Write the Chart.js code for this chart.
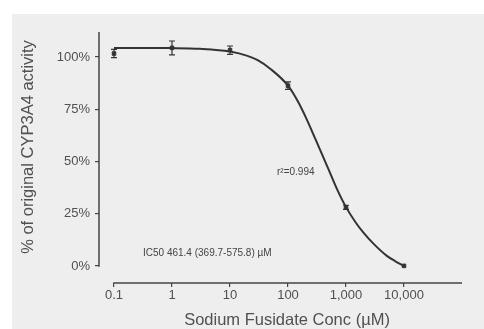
<!DOCTYPE html>
<html>
<head>
<meta charset="utf-8">
<script src="https://cdn.jsdelivr.net/npm/chart.js@4.4.1/dist/chart.umd.min.js"></script>
<style>
  html, body { margin: 0; padding: 0; background: #ffffff; }
  #wrap { width: 484px; height: 329px; }
</style>
</head>
<body>
<div id="wrap"><canvas id="c" width="484" height="329"></canvas></div>
<script>
// ---- data ----
const concentrations = [0.1, 1, 10, 100, 1000, 10000];
const activity = [101.7, 104.4, 103.3, 86.3, 28.1, 0.1];
const activityErr = [2.0, 3.3, 2.0, 1.8, 1.0, 0];

const curveConc = [0.1, 1, 3, 10, 20, 30, 50, 100, 150, 200, 300, 500, 700, 1000, 1500, 2000, 3000, 5000, 7000, 10000];
const curveActivity = [104.4, 104.3, 104.0, 102.7, 100.6, 98.5, 94.3, 86.3, 78.5, 71.5, 60.5, 46.3, 36.8, 28.2, 20.5, 16.0, 10.6, 5.0, 2.4, 0.1];

const xTickValues = [0.1, 1, 10, 100, 1000, 10000];
const xTickLabels = ['0.1', '1', '10', '100', '1,000', '10,000'];
const yTickValues = [0, 25, 50, 75, 100];
const yTickLabels = ['0%', '25%', '50%', '75%', '100%'];

const xTitle = 'Sodium Fusidate Conc (µM)';
const yTitle = '% of original CYP3A4 activity';
const r2Text = 'r²=0.994';
const ic50Text = 'IC50 461.4 (369.7-575.8) µM';

const FONT = '"Liberation Sans", Arial, sans-serif';
const AXIS_COLOR = '#444444';
const TEXT_COLOR = '#505050';

const bgPlugin = {
  id: 'bg',
  beforeDraw(chart) {
    const ctx = chart.ctx;
    ctx.save();
    ctx.fillStyle = '#ffffff';
    ctx.fillRect(0, 0, chart.width, chart.height);
    ctx.fillStyle = '#eeeeee';
    ctx.fillRect(12, 14, chart.width - 12, chart.height - 14);
    ctx.restore();
  }
};

const axesPlugin = {
  id: 'axesLines',
  afterDraw(chart) {
    const ctx = chart.ctx;
    const xs = chart.scales.x, ys = chart.scales.y;
    const area = chart.chartArea;
    ctx.save();
    ctx.strokeStyle = AXIS_COLOR;
    ctx.lineWidth = 1.5;
    // y axis line
    ctx.beginPath();
    ctx.moveTo(area.left, ys.getPixelForValue(112));
    ctx.lineTo(area.left, ys.getPixelForValue(0) + 0.75);
    ctx.stroke();
    // x axis line
    ctx.beginPath();
    ctx.moveTo(xs.getPixelForValue(0.1) - 0.75, area.bottom);
    ctx.lineTo(area.right, area.bottom);
    ctx.stroke();

    // error bars
    ctx.strokeStyle = '#333333';
    ctx.lineWidth = 1.2;
    concentrations.forEach((c, i) => {
      const e = activityErr[i];
      if (!e) return;
      const px = xs.getPixelForValue(c);
      const top = ys.getPixelForValue(activity[i] + e);
      const bot = ys.getPixelForValue(activity[i] - e);
      ctx.beginPath();
      ctx.moveTo(px, top); ctx.lineTo(px, bot);
      ctx.moveTo(px - 3, top); ctx.lineTo(px + 3, top);
      ctx.moveTo(px - 3, bot); ctx.lineTo(px + 3, bot);
      ctx.stroke();
    });

    // titles
    ctx.fillStyle = TEXT_COLOR;
    ctx.font = '16.5px ' + FONT;
    ctx.textAlign = 'center';
    ctx.textBaseline = 'middle';
    ctx.fillText(xTitle, 287, 320);
    ctx.save();
    ctx.translate(28, 147);
    ctx.rotate(-Math.PI / 2);
    ctx.fillText(yTitle, 0, 0);
    ctx.restore();

    // annotations
    ctx.fillStyle = '#444444';
    ctx.font = '10px ' + FONT;
    ctx.textAlign = 'left';
    ctx.fillText(r2Text, xs.getPixelForValue(64.6), ys.getPixelForValue(45));
    ctx.fillText(ic50Text, xs.getPixelForValue(0.316), ys.getPixelForValue(6.2));
    ctx.restore();
  }
};

new Chart(document.getElementById('c'), {
  data: {
    datasets: [
      {
        type: 'line',
        data: curveConc.map((c, i) => ({ x: c, y: curveActivity[i] })),
        borderColor: '#333333',
        borderWidth: 2,
        pointRadius: 0,
        cubicInterpolationMode: 'monotone',
        fill: false
      },
      {
        type: 'scatter',
        data: concentrations.map((c, i) => ({ x: c, y: activity[i] })),
        pointStyle: 'rect',
        pointRadius: 2.5,
        backgroundColor: '#333333',
        borderColor: '#333333',
        borderWidth: 1,
        showLine: false
      }
    ]
  },
  options: {
    responsive: false,
    animation: false,
    devicePixelRatio: 1,
    layout: { padding: { top: 32, right: 22, left: 0, bottom: 0 } },
    plugins: { legend: { display: false }, tooltip: { enabled: false } },
    scales: {
      x: {
        type: 'logarithmic',
        min: 0.05511,
        max: 100000,
        afterBuildTicks(scale) { scale.ticks = xTickValues.map(v => ({ value: v })); },
        afterFit(scale) { scale.height = 46; },
        grid: { drawOnChartArea: false, drawTicks: true, tickLength: 4, color: AXIS_COLOR, lineWidth: 1.2 },
        border: { display: false },
        ticks: {
          autoSkip: false,
          maxRotation: 0,
          padding: 1,
          color: TEXT_COLOR,
          font: { family: FONT, size: 13 },
          callback(value) {
            const i = xTickValues.findIndex(v => Math.abs(v - value) < v * 1e-6);
            return i >= 0 ? xTickLabels[i] : '';
          }
        }
      },
      y: {
        type: 'linear',
        min: -8.1,
        max: 112,
        afterBuildTicks(scale) { scale.ticks = yTickValues.map(v => ({ value: v })); },
        afterFit(scale) { scale.width = 99; },
        grid: { drawOnChartArea: false, drawTicks: true, tickLength: 4, color: AXIS_COLOR, lineWidth: 1.2 },
        border: { display: false },
        ticks: {
          autoSkip: false,
          padding: 5,
          color: TEXT_COLOR,
          font: { family: FONT, size: 13 },
          callback(value) {
            const i = yTickValues.indexOf(value);
            return i >= 0 ? yTickLabels[i] : '';
          }
        }
      }
    }
  },
  plugins: [bgPlugin, axesPlugin]
});
</script>
</body>
</html>
